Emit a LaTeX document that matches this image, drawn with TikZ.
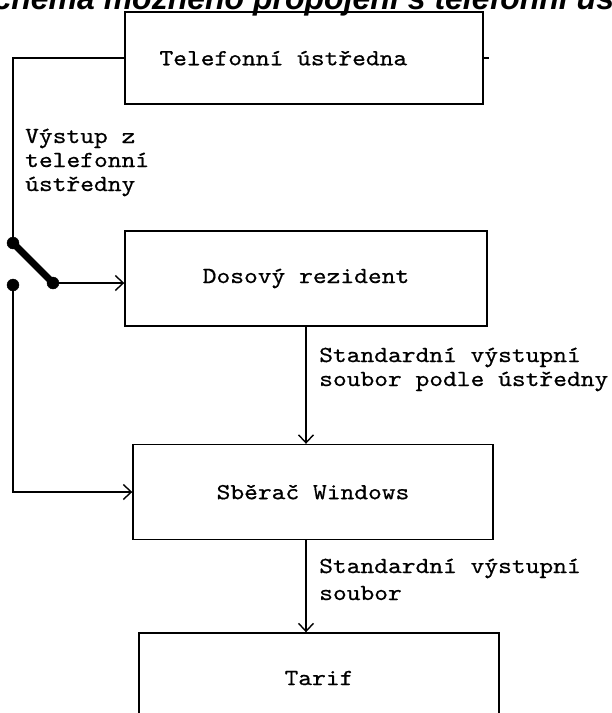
\documentclass[tikz,border=0pt]{standalone}
\usepackage{fontspec}
\usepackage{tikz}
\usetikzlibrary{arrows.meta}
\usetikzlibrary{positioning}
\newfontfamily\monofont[FakeStretch=1.14,FakeBold=0.6]{lmmono10-regular.otf}
\newfontfamily\titlefont{Liberation Sans}

\begin{document}
\begin{tikzpicture}[x=1pt,y=-1pt,
    box/.style={draw,line width=1.4pt,minimum width=360pt,inner sep=0pt,
                font=\monofont\fontsize{23}{24}\selectfont},
    lbl/.style={align=left,inner sep=0pt,anchor=base west,
                font=\monofont\fontsize{23}{24}\selectfont},
    linie/.style={line width=1.4pt},
    pfeil/.style={line width=1.4pt,-{Straight Barb[length=8pt,width=15pt,line width=1.4pt]}}]
            % Rahmen
            \useasboundingbox (0,0) rectangle (612,713);
            \clip (0,0) rectangle (612,713);

            \node[anchor=base west,inner sep=0pt,
                  font=\titlefont\bfseries\itshape\fontsize{32}{33}\selectfont]
                  (titel) at (-28,9) {Schéma možného propojení s telefonní ústřednou};

            % Bloecke
            \node[box,minimum width=358pt,minimum height=92pt] (ustredna) at (304,58) {Telefonní ústředna\hphantom{xxx}};
            \node[box,minimum width=362pt,minimum height=95pt] (rezident) at (306,278.5) {Dosový rezident};
            \node[box,minimum height=95pt] (sberac) at (313,492) {Sběrač Windows};
            \node[box,minimum height=90pt] (tarif) at (319,678) {Tarif};

            % Prepinac
            \coordinate (swA) at (13,243);
            \coordinate (swB) at (53,283);
            \coordinate (swC) at (13,285);
            \draw[line width=7pt] (swA) -- (swB);
            \filldraw (swA) circle (6pt);
            \filldraw (swB) circle (6pt);
            \filldraw (swC) circle (6pt);

            % Spojeni
            \draw[linie] (ustredna.west) -| (swA);
            \draw[linie] (ustredna.east) -- ++(5,0);
            \draw[pfeil] (swB) -- (swB -| rezident.west);
            \draw[pfeil] (swC) |- (sberac.west);
            \draw[pfeil] (rezident.south) -- (rezident.south |- sberac.north);
            \draw[pfeil] (sberac.south -| rezident.south) -- (rezident.south |- tarif.north);

            % Popisky
            \node[lbl] (vystup) at (25,191) {Výstup z\\telefonní\\ústředny};
            \node[lbl] (std1) at (319,386) {Standardní výstupní\\soubor podle ústředny};
            \node[lbl,font=\monofont\fontsize{23}{27}\selectfont] (std2) at (319,600) {Standardní výstupní\\soubor};

        \end{tikzpicture}
\end{document}
